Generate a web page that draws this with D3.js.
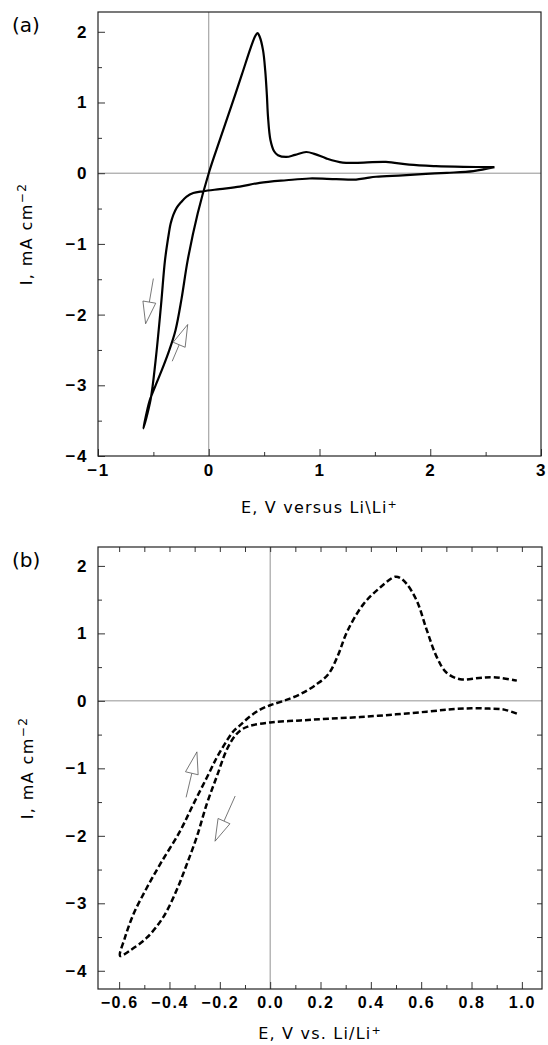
<!DOCTYPE html>
<html>
<head>
<meta charset="utf-8">
<script src="https://cdn.jsdelivr.net/npm/d3@7"></script>
<style>
body { margin: 0; background: #fff; }
</style>
</head>
<body>
<svg id="chart" width="548" height="1045"></svg>
<script>
// (a) solid CV: potential E (V vs Li) and current I (mA cm-2)
var aE = [2.58, 2.39, 2.15, 1.96, 1.75, 1.51, 1.42, 1.33, 1.15, 0.91, 0.70, 0.46, 0.28, 0.10, -0.05, -0.14, -0.20, -0.25, -0.29, -0.32, -0.345, -0.36, -0.395, -0.43, -0.48, -0.525, -0.59,
          -0.56, -0.53, -0.48, -0.425, -0.36, -0.30, -0.245, -0.19, -0.10, 0.0, 0.10, 0.20, 0.30, 0.38, 0.42, 0.44, 0.46, 0.49, 0.51, 0.525, 0.535, 0.557, 0.59, 0.625, 0.70, 0.78, 0.88, 0.96, 1.06, 1.21, 1.40, 1.60, 1.81, 2.05, 2.30, 2.58];
var aI = [0.085, 0.03, 0.005, -0.01, -0.03, -0.05, -0.07, -0.09, -0.085, -0.075, -0.10, -0.137, -0.19, -0.225, -0.255, -0.28, -0.33, -0.41, -0.49, -0.59, -0.72, -0.85, -1.23, -1.85, -2.65, -3.20, -3.61,
          -3.38, -3.20, -3.00, -2.79, -2.52, -2.22, -1.77, -1.23, -0.57, 0.0, 0.47, 0.93, 1.40, 1.78, 1.94, 1.98, 1.93, 1.74, 1.45, 1.10, 0.80, 0.47, 0.31, 0.255, 0.23, 0.26, 0.30, 0.27, 0.21, 0.15, 0.15, 0.16, 0.12, 0.10, 0.09, 0.085];

// (b) dashed CV
var bE = [0.98, 0.93, 0.87, 0.80, 0.72, 0.623, 0.50, 0.358, 0.232, 0.12, 0.0, -0.08, -0.115, -0.14, -0.172, -0.212, -0.252, -0.291, -0.331, -0.371, -0.424, -0.49, -0.557, -0.596,
          -0.577, -0.543, -0.49, -0.437, -0.358, -0.305, -0.252, -0.212, -0.172, -0.146, -0.119, -0.08, -0.04, 0.0, 0.053, 0.12, 0.186, 0.232, 0.27, 0.305, 0.37, 0.437, 0.497, 0.517, 0.543, 0.583, 0.623, 0.663, 0.70, 0.755, 0.83, 0.888, 0.98];
var bI = [-0.19, -0.13, -0.115, -0.11, -0.125, -0.16, -0.20, -0.24, -0.265, -0.29, -0.32, -0.37, -0.43, -0.52, -0.72, -1.12, -1.53, -2.01, -2.42, -2.80, -3.20, -3.51, -3.70, -3.78,
          -3.51, -3.16, -2.77, -2.42, -1.93, -1.53, -1.14, -0.84, -0.59, -0.45, -0.36, -0.23, -0.13, -0.065, 0.0, 0.10, 0.25, 0.40, 0.68, 1.02, 1.43, 1.68, 1.84, 1.82, 1.73, 1.48, 1.04, 0.64, 0.42, 0.32, 0.34, 0.35, 0.30];

// scan direction arrows: [tail E, tail I, tip E, tip I]
var aArrows = [[-0.50, -1.49, -0.57, -2.13], [-0.33, -2.66, -0.19, -2.14]];
var bArrows = [[-0.334, -1.43, -0.291, -0.756], [-0.139, -1.41, -0.219, -2.08]];

// tick values
var aXTicks = [-1, 0, 1, 2, 3];
var aXMinor = [-0.5, 0.5, 1.5, 2.5];
var aYTicks = [-4, -3, -2, -1, 0, 1, 2];
var aYMinor = [-3.5, -2.5, -1.5, -0.5, 0.5, 1.5];
var bXTicks = [-0.6, -0.4, -0.2, 0.0, 0.2, 0.4, 0.6, 0.8, 1.0];
var bXMinor = [-0.5, -0.3, -0.1, 0.1, 0.3, 0.5, 0.7, 0.9];
var bYTicks = [-4, -3, -2, -1, 0, 1, 2];
var bYMinor = [-3.5, -2.5, -1.5, -0.5, 0.5, 1.5];
var bRightTicks = [-4, -3.5, -3, -2.5, -2, -1.5, -1, -0.5, 0.5, 1, 1.5, 2];

var svg = d3.select("#chart");
var tickFont = "'Liberation Sans', Arial, sans-serif";
var titleFont = "'DejaVu Sans', sans-serif";

function styleTicks(sel, size) {
    sel.select(".domain").remove();
    sel.selectAll("line").attr("stroke", "#333").attr("stroke-width", 1);
    sel.selectAll("text")
        .attr("fill", "#000")
        .style("font-family", tickFont)
        .style("font-weight", "bold")
        .style("font-size", size + "px")
        .style("letter-spacing", "1.6px");
}

function arrow(g, x, y, a) {
    var x0 = x(a[0]), y0 = y(a[1]), x1 = x(a[2]), y1 = y(a[3]);
    var dx = x1 - x0, dy = y1 - y0, len = Math.sqrt(dx * dx + dy * dy);
    var ux = dx / len, uy = dy / len;
    var head = 22, hw = 6.5;
    var bx = x1 - ux * head, by = y1 - uy * head;
    g.append("line")
        .attr("x1", x0).attr("y1", y0).attr("x2", bx).attr("y2", by)
        .attr("stroke", "#555").attr("stroke-width", 0.8);
    g.append("path")
        .attr("d", "M" + x1 + "," + y1 +
            "L" + (bx - uy * hw) + "," + (by + ux * hw) +
            "L" + (bx + uy * hw) + "," + (by - ux * hw) + "Z")
        .attr("fill", "#fff").attr("stroke", "#555").attr("stroke-width", 0.8);
}

function drawPanel(p) {
    var g = svg.append("g");
    var x = d3.scaleLinear().domain(p.xDomain).range([p.left, p.right]);
    var y = d3.scaleLinear().domain(p.yDomain).range([p.bottom, p.top]);

    // zero lines
    g.append("line").attr("x1", p.left).attr("x2", p.right).attr("y1", y(0)).attr("y2", y(0))
        .attr("stroke", "#777").attr("stroke-width", 0.8);
    g.append("line").attr("x1", x(0)).attr("x2", x(0)).attr("y1", p.top).attr("y2", p.bottom)
        .attr("stroke", "#777").attr("stroke-width", 0.8);

    // ticks, all pointing inward
    var yAx = g.append("g").attr("transform", "translate(" + p.left + ",0)")
        .call(d3.axisLeft(y).tickValues(p.yTicks).tickSize(-7).tickPadding(10).tickFormat(d3.format("d")));
    styleTicks(yAx, 17);
    var yMin = g.append("g").attr("transform", "translate(" + p.left + ",0)")
        .call(d3.axisLeft(y).tickValues(p.yMinor).tickSize(-4).tickFormat(""));
    styleTicks(yMin, 16);

    var xAx = g.append("g").attr("transform", "translate(0," + p.bottom + ")")
        .call(d3.axisBottom(x).tickValues(p.xTicks).tickSize(-7).tickPadding(8).tickFormat(d3.format(p.xFormat)));
    styleTicks(xAx, p.xSize);
    var xMin = g.append("g").attr("transform", "translate(0," + p.bottom + ")")
        .call(d3.axisBottom(x).tickValues(p.xMinor).tickSize(-4).tickFormat(""));
    styleTicks(xMin, 16);

    if (p.topTicks) {
        var tAx = g.append("g").attr("transform", "translate(0," + p.top + ")")
            .call(d3.axisTop(x).tickValues(p.topTicks).tickSize(-5).tickFormat(""));
        styleTicks(tAx, 16);
    }
    if (p.rightTicks) {
        var rAx = g.append("g").attr("transform", "translate(" + p.right + ",0)")
            .call(d3.axisRight(y).tickValues(p.rightTicks).tickSize(-5).tickFormat(""));
        styleTicks(rAx, 16);
    }

    // frame
    g.append("rect").attr("x", p.left).attr("y", p.top)
        .attr("width", p.right - p.left).attr("height", p.bottom - p.top)
        .attr("fill", "none").attr("stroke", "#222").attr("stroke-width", 1.2);

    // the CV trace
    var line = d3.line()
        .x(function(i) { return x(p.E[i]); })
        .y(function(i) { return y(p.I[i]); })
        .curve(d3.curveCatmullRom.alpha(0.5));
    g.append("path")
        .datum(d3.range(p.E.length))
        .attr("d", line)
        .attr("fill", "none")
        .attr("stroke", "#000")
        .attr("stroke-width", p.dash ? 2.5 : 2.2)
        .attr("stroke-linejoin", "round")
        .attr("stroke-dasharray", p.dash || null);

    p.arrows.forEach(function(a) { arrow(g, x, y, a); });

    // labels
    g.append("text").attr("x", 12).attr("y", p.top + 20)
        .style("font-family", titleFont).style("font-size", "20px")
        .text(p.tag);

    var yt = g.append("text")
        .attr("transform", "translate(" + p.yTitleX + "," + ((p.top + p.bottom) / 2) + ") rotate(-90)")
        .attr("text-anchor", "middle")
        .style("font-family", titleFont).style("font-size", "16px").style("letter-spacing", "1.4px");
    yt.append("tspan").text("I, mA cm");
    yt.append("tspan").attr("dy", -6).style("font-size", "12px").text("\u22122");

    var xt = g.append("text")
        .attr("x", (p.left + p.right) / 2).attr("y", p.xTitleY)
        .attr("text-anchor", "middle")
        .style("font-family", titleFont).style("font-size", "16px").style("letter-spacing", "1.2px");
    xt.append("tspan").text(p.xTitle);
    xt.append("tspan").attr("dy", -5).style("font-size", "11px").text("+");
}

drawPanel({
    tag: "(a)", left: 98, right: 541, top: 12, bottom: 456,
    xDomain: [-1, 3], yDomain: [-4, 2.28],
    xTicks: aXTicks, xMinor: aXMinor, yTicks: aYTicks, yMinor: aYMinor,
    xFormat: "d", xSize: 17,
    E: aE, I: aI, dash: null, arrows: aArrows,
    yTitleX: 32, xTitleY: 513, xTitle: "E, V versus Li\\Li"
});

drawPanel({
    tag: "(b)", left: 98, right: 542, top: 547, bottom: 989,
    xDomain: [-0.684, 1.08], yDomain: [-4.27, 2.28],
    xTicks: bXTicks, xMinor: bXMinor, yTicks: bYTicks, yMinor: bYMinor,
    topTicks: bXTicks.concat(bXMinor), rightTicks: bRightTicks,
    xFormat: ".1f", xSize: 16,
    E: bE, I: bI, dash: "6,3", arrows: bArrows,
    yTitleX: 33, xTitleY: 1039, xTitle: "E, V vs. Li/Li"
});
</script>
</body>
</html>
